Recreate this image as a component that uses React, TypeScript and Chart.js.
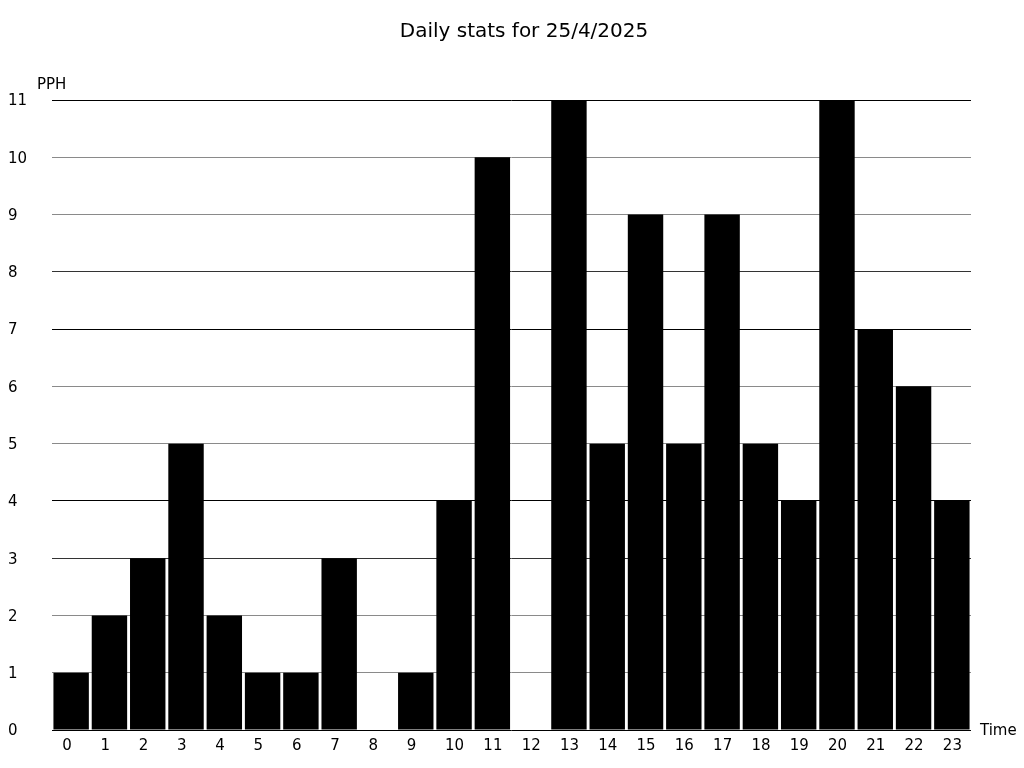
import React, { useEffect, useRef } from "react";
import { Chart, registerables } from "chart.js";

Chart.register(...registerables);

const TITLE = "Daily stats for 25/4/2025";
const Y_LABEL = "PPH";
const X_LABEL = "Time";
const hours = [
  "0", "1", "2", "3", "4", "5", "6", "7", "8", "9", "10", "11",
  "12", "13", "14", "15", "16", "17", "18", "19", "20", "21", "22", "23",
];
const pph = [1, 2, 3, 5, 2, 1, 1, 3, 0, 1, 4, 10, 0, 11, 5, 9, 5, 9, 5, 4, 11, 7, 6, 4];
const yMin = 0;
const yMax = 11;

const FONT = '"DejaVu Sans", sans-serif';

const gridColorFor = (v: number) => {
  if ([0, 4, 7, 11].includes(v)) return "#000000";
  if ([3, 8].includes(v)) return "#333333";
  return "#8a8a8a";
};

const labelsPlugin = {
  id: "extraLabels",
  afterDraw(chart: any) {
    const ctx = chart.ctx;
    ctx.save();
    ctx.fillStyle = "#000";
    ctx.textBaseline = "alphabetic";
    ctx.font = `20px ${FONT}`;
    ctx.textAlign = "center";
    ctx.fillText(TITLE, 524, 37);
    ctx.font = `15px ${FONT}`;
    ctx.textAlign = "left";
    ctx.fillText(Y_LABEL, 37, 89);
    ctx.fillText(X_LABEL, chart.chartArea.right + 9, chart.chartArea.bottom + 5);
    ctx.restore();
  },
};

export default function App() {
  const ref = useRef<HTMLCanvasElement | null>(null);
  useEffect(() => {
    if (!ref.current) return;
    Chart.defaults.font.family = FONT;
    const chart = new Chart(ref.current, {
      type: "bar",
      data: {
        labels: hours,
        datasets: [
          {
            data: pph,
            backgroundColor: "#000000",
            borderWidth: 0,
            categoryPercentage: 1,
            barPercentage: 0.925,
          },
        ],
      },
      options: {
        responsive: false,
        animation: false,
        layout: { padding: { left: 8, right: 53, top: 100, bottom: 0 } },
        plugins: {
          legend: { display: false },
          title: { display: false },
          tooltip: { enabled: false },
        },
        scales: {
          x: {
            grid: { display: false },
            border: { display: false },
            ticks: {
              color: "#000",
              font: { size: 15 },
              padding: -1,
              maxRotation: 0,
              autoSkip: false,
              align: "start",
              labelOffset: -9,
            },
            afterFit: (s: any) => {
              s.height = 38;
            },
          },
          y: {
            min: yMin,
            max: yMax,
            border: { display: false },
            grid: {
              drawTicks: false,
              color: (c: any) => gridColorFor(c.tick ? c.tick.value : 0),
              lineWidth: 1,
            },
            ticks: {
              stepSize: 1,
              color: "#000",
              font: { size: 15 },
              crossAlign: "far",
              padding: 0,
              labelOffset: 1.5,
            },
            afterFit: (s: any) => {
              s.width = 44;
            },
          },
        },
      },
      plugins: [labelsPlugin],
    });
    return () => chart.destroy();
  }, []);
  return (
    <canvas
      ref={ref}
      width={1024}
      height={768}
      style={{ position: "fixed", left: 0, top: 0, width: 1024, height: 768 }}
    />
  );
}
